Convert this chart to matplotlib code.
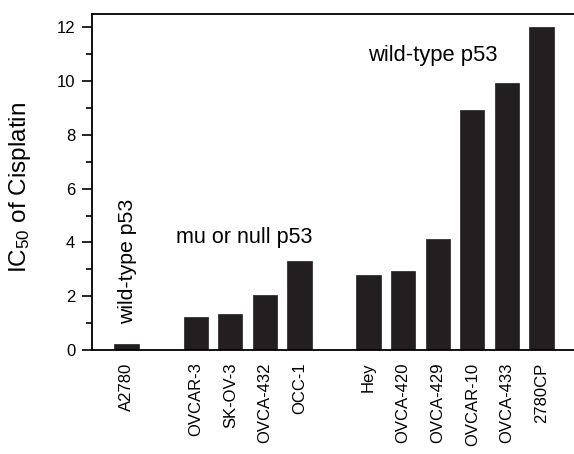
import matplotlib
matplotlib.use("Agg")
import matplotlib.pyplot as plt
from matplotlib.ticker import MultipleLocator

plt.rcParams['font.family'] = ['Liberation Sans', 'DejaVu Sans']
plt.rcParams['mathtext.fontset'] = 'custom'
plt.rcParams['mathtext.rm'] = 'Liberation Sans'
plt.rcParams['mathtext.it'] = 'Liberation Sans:italic'
plt.rcParams['mathtext.bf'] = 'Liberation Sans:bold'

cell_lines = ["A2780", "OVCAR-3", "SK-OV-3", "OVCA-432", "OCC-1",
              "Hey", "OVCA-420", "OVCA-429", "OVCAR-10", "OVCA-433", "2780CP"]
positions = [0, 2, 3, 4, 5, 7, 8, 9, 10, 11, 12]
ic50 = [0.21, 1.22, 1.33, 2.04, 3.3, 2.79, 2.94, 4.13, 8.94, 9.94, 12.02]

fig = plt.figure(figsize=(5.74, 4.54), dpi=100)
ax = fig.add_axes([92/574, 104/454, 484/574, 336/454])

ax.bar(positions, ic50, width=0.7, color='#231f20', edgecolor='#231f20', linewidth=0.5)

ax.set_xlim(-1, 13)
ax.set_ylim(0, 12.5)
ax.set_xticks(positions)
ax.set_xticklabels(cell_lines, rotation=90, fontsize=12)
ax.tick_params(axis='x', length=0, pad=9)
ax.yaxis.set_major_locator(MultipleLocator(2))
ax.yaxis.set_minor_locator(MultipleLocator(1))
ax.tick_params(axis='y', which='major', length=7, width=1.2, labelsize=12, pad=5, direction='out')
ax.tick_params(axis='y', which='minor', length=4, width=1.2, direction='out')

for s in ['left', 'top', 'bottom']:
    ax.spines[s].set_linewidth(1.3)
ax.spines['right'].set_visible(False)

ax.set_ylabel(r'IC$_\mathregular{50}$ of Cisplatin', fontsize=17.5)
ax.yaxis.set_label_coords(-0.122, 0.484)

ax.text(0.03, 3.3, 'wild-type p53', rotation=90, ha='center', va='center', fontsize=15.3)
ax.text(3.4, 4.19, 'mu or null p53', ha='center', va='center', fontsize=15.5)
ax.text(8.86, 10.94, 'wild-type p53', ha='center', va='center', fontsize=15.8)

fig.savefig('out.png', dpi=100)
